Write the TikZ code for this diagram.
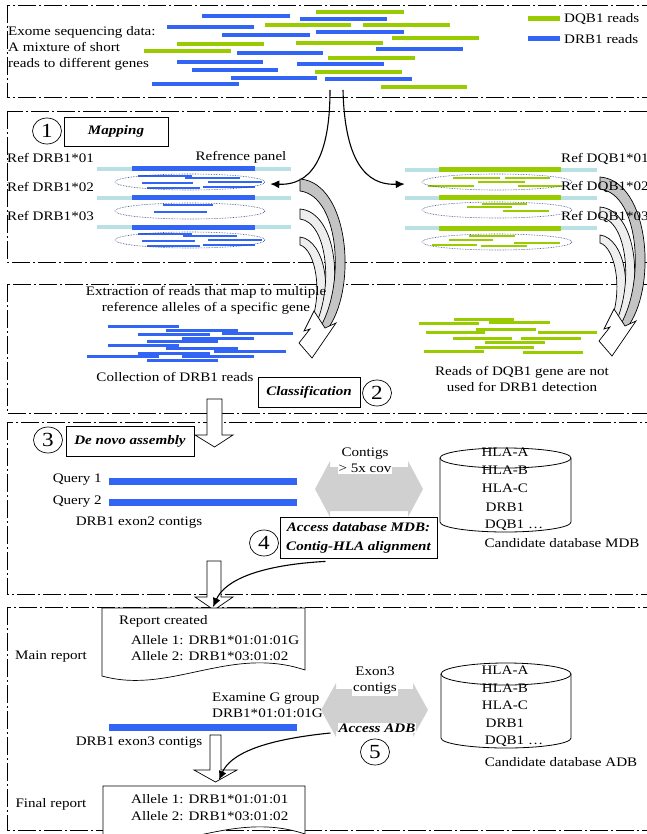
\documentclass[tikz,border=0pt]{standalone}
\usepackage{fontspec}
\setmainfont{Liberation Serif}[FakeStretch=1.16]
\usetikzlibrary{arrows.meta,shapes.geometric,calc}
\definecolor{rblue}{RGB}{50,100,245}
\definecolor{rgreen}{RGB}{153,204,0}
\definecolor{rcyan}{RGB}{185,224,228}
\definecolor{dotblue}{RGB}{40,60,120}
\definecolor{garrow}{RGB}{208,208,208}
\definecolor{bandA}{RGB}{196,196,196}
\definecolor{bandB}{RGB}{238,238,238}
\begin{document}
\begin{tikzpicture}[x=1pt,y=-1pt,
  txt/.style={font=\fontsize{13}{16}\selectfont, inner sep=0pt},
  lbl/.style={txt, anchor=west},
  bxt/.style={draw, line width=0.8pt, inner sep=0pt, font=\fontsize{13}{19}\selectfont\bfseries\itshape},
  circ/.style={draw, ellipse, minimum width=29pt, minimum height=26pt, inner sep=0pt, line width=0.7pt, font=\fontsize{20}{20}\selectfont},
  panel/.style={draw, line width=0.7pt, dash pattern=on 18pt off 3pt on 2pt off 3pt},
  bread/.style={rblue, line width=4pt},
  gread/.style={rgreen, line width=4pt},
  ell/.style={draw=dotblue, densely dotted, ellipse, minimum width=150pt, minimum height=16pt, inner sep=0pt, line width=0.6pt},
  curv/.style={line width=1.1pt, -{Latex[length=9pt,width=8pt]}},
  hollow/.style={draw, fill=white, line width=0.7pt},
  band/.style={draw, line width=0.7pt},
]
\fill[white] (0,0) rectangle (646,834);
\useasboundingbox (0,0) rectangle (646,834);

% ---------- panels
\draw[panel] (7,5) rectangle (670,97.7);
\draw[panel] (7,111) rectangle (670,262);
\draw[panel] (7,284) rectangle (670,413);
\draw[panel] (7,422) rectangle (670,594);
\draw[panel] (7,607) rectangle (670,830);

% ---------- panel 1
\node[lbl, align=left] (intro) at (8,48) {Exome sequencing data:\\A mixture of short\\reads to different genes};
\foreach \a/\b/\y in {202/290/16, 300/387/19, 167/254/27, 222/310/35, 316/404/32, 237/323/53, 376/463/49, 177/263/62, 297/384/64, 192/278/70, 231/317/78, 325/412/79, 152/239/84}
  \draw[bread] (\a,\y) -- (\b,\y);
\foreach \a/\b/\y in {316/404/12, 265/351/25, 363/450/25, 392/479/38, 177/264/44, 296/383/43, 144/231/51, 328/415/58, 315/402/72, 381/467/87}
  \draw[gread] (\a,\y) -- (\b,\y);
\draw[rgreen, line width=5pt] (528,19) -- (560,19);
\node[lbl] (lgq) at (564,19) {DQB1 reads};
\draw[rblue, line width=5pt] (528,39) -- (560,39);
\node[lbl] (lgr) at (564,39) {DRB1 reads};

% ---------- panel 2 (mapping)
\node[circ] (c1) at (47,131) {1};
\node[bxt, minimum width=104pt, minimum height=29pt] (map) at (116,131.5) {Mapping};
\node[txt] (refp) at (241,157) {Refrence panel};
\foreach \i/\y in {1/158,2/187,3/216} \node[lbl] (rl\i) at (7,\y) {Ref DRB1*0\i};
\foreach \y in {169,198,227} {
  \draw[rcyan, line width=4pt] (97,\y) -- (291,\y);
  \draw[rblue, line width=5pt] (132,\y) -- (255,\y);
}
\foreach \a/\b/\y in {138/192/176, 185/240/178, 142/193/183, 208/262/182, 147/200/188, 203/255/187,
                      163/213/205, 154/207/212,
                      138/192/234, 183/237/236, 142/195/241, 208/262/240, 147/200/246, 203/255/245}
  \draw[rblue, line width=2.5pt] (\a,\y) -- (\b,\y);
\node[ell] (le1) at (190,182) {};
\node[ell] (le2) at (190,211) {};
\node[ell] (le3) at (190,240) {};

\foreach \y in {170,198,228} {
  \draw[rcyan, line width=4pt] (405,\y) -- (597,\y);
  \draw[rgreen, line width=5pt] (439,\y) -- (561,\y);
}
\foreach \a/\b/\y in {453/500/178, 505/550/178, 478/525/182, 428/474/186, 518/562/186,
                      482/527/204, 467/512/207, 503/549/211,
                      469/515/236, 449/493/240, 514/560/243, 432/477/245, 481/527/246}
  \draw[rgreen, line width=2.5pt] (\a,\y) -- (\b,\y);
\node[ell] (re1) at (497,182) {};
\node[ell] (re2) at (497,210) {};
\node[ell] (re3) at (497,242) {};

\coordinate (s1) at (330,90);
\coordinate (s2) at (343,90);
\draw[curv] (s1) .. controls (330,175) and (300,185) .. ($(le1.east)+(5,2)$);
\draw[curv] (s2) .. controls (345,175) and (375,185) .. ($(re1.west)+(-17,2)$);

% ---------- gray striped curved arrows
\foreach \dx/\dy in {0/0,300/-2}{
\begin{scope}[shift={(\dx,\dy)}]
  \draw[band, fill=bandB] (300,237) .. controls (325,240) and (336,296) .. (313,331)
     -- (308,331) .. controls (325,294) and (315,249) .. (300,245) -- cycle;
  \draw[band, fill=bandB] (300,209) .. controls (337,212) and (346,292) .. (319,331)
     -- (313,331) .. controls (335,288) and (327,222) .. (300,219) -- cycle;
  \draw[band, fill=bandA] (300,179) .. controls (350,183) and (358,292) .. (326,331)
     -- (318,331) .. controls (346,288) and (340,196) .. (300,191) -- cycle;
  \draw[hollow] (314,311) -- (304,331) -- (310,329) -- (299,343) -- (312,358) -- (336,323) -- (325,328) -- cycle;
\end{scope}}
\foreach \i/\y in {1/159,2/187,3/217} \node[lbl] (rq\i) at (561,\y) {Ref DQB1*0\i};

% ---------- panel 3 (classification)
\node[txt, align=center] (extr) at (206,300.5) {Extraction of reads that map to multiple\\reference alleles of a specific gene};
\foreach \a/\b/\y in {108/179/326, 166/238/330, 222/293/333, 138/210/334, 182/254/338, 147/218/341, 108/179/345, 166/238/348, 214/286/351, 138/210/353, 87/159/356, 182/254/356, 147/218/360}
  \draw[rblue, line width=3pt] (\a,\y) -- (\b,\y);
\node[txt] (coll) at (175,377) {Collection of DRB1 reads};
\node[bxt, minimum width=102pt, minimum height=30pt] (cls) at (309,392) {Classification};
\node[circ] (c2) at (377,393) {2};
\foreach \a/\b/\y in {454/514/319, 419/479/323, 489/550/322, 476/536/329, 426/485/332, 538/597/332, 453/512/338, 521/581/338, 485/545/342, 475/534/347, 424/484/351, 523/583/352}
  \draw[rgreen, line width=3pt] (\a,\y) -- (\b,\y);
\node[txt, align=center] (nodq) at (522,378.5) {Reads of DQB1 gene are not\\used for DRB1 detection};

% block arrow 1
\draw[hollow] (207,399) -- (222,399) -- (222,435) -- (233,435) -- (214.5,447) -- (195,435) -- (207,435) -- cycle;

% ---------- panel 4 (assembly)
\node[circ] (c3) at (48,440) {3};
\node[bxt, minimum width=128pt, minimum height=30pt] (asm) at (130,441) {De novo assembly};
\node[txt, anchor=east] (q1) at (102,480) {Query 1};
\node[txt, anchor=east] (q2) at (102,502) {Query 2};
\draw[rblue, line width=7pt] (109,481) -- (297,481);
\draw[rblue, line width=7pt] (109,502) -- (297,502);
\node[txt] (ex2) at (139,523) {DRB1 exon2 contigs};
\fill[garrow] (315,489) -- (330,461) -- (330,467) -- (408,467) -- (408,461) -- (423,489) -- (408,517) -- (408,511) -- (330,511) -- (330,517) -- cycle;
\node[txt, align=center, fill=white, inner sep=1pt] (ctg) at (365,460.5) {Contigs\\> 5x cov};
\draw[line width=0.8pt] (505.5,458) ellipse [x radius=65.5, y radius=10];
\draw[line width=0.8pt] (440,458) -- (440,522) arc[start angle=180, end angle=0, x radius=65.5, y radius=10] -- (571,458);
\node[txt] (h1a) at (505,452) {HLA-A};
\node[txt] (h1b) at (505,470) {HLA-B};
\node[txt] (h1c) at (505,488) {HLA-C};
\node[txt] (h1d) at (505,507) {DRB1};
\node[txt] (h1e) at (514,525) {DQB1 …};
\node[txt] (cdm) at (562,543) {Candidate database MDB};
\node[bxt, align=center, minimum width=157pt, minimum height=41pt] (mdb) at (358.5,537.5) {Access database MDB:\\Contig-HLA alignment};
\node[circ] (c4) at (264,543) {4};
% block arrow 2
\draw[hollow] (207,561) -- (221,561) -- (221,597) -- (233,597) -- (214,610) -- (195,597) -- (207,597) -- cycle;
\coordinate (a2tip) at (213,607);
\draw[curv] ($(mdb.south)+(-33,3)$) .. controls (260,565) and (225,580) .. (a2tip);

% ---------- panel 5 (report)
\draw[hollow] (102,608) -- (305,608) -- (305,670) .. controls (230,645) and (170,695) .. (102,676) -- cycle;
\node[lbl] (rc) at (119,621) {Report created};
\node[lbl] (al1) at (131,640) {Allele 1: DRB1*01:01:01G};
\node[lbl] (al2) at (131,656) {Allele 2: DRB1*03:01:02};
\node[txt] (mr) at (51,657) {Main report};
\node[lbl, align=left] (egg) at (212,705) {Examine G group\\DRB1*01:01:01G};
\draw[rblue, line width=7pt] (109,727) -- (297,727);
\node[txt] (ex3) at (139,743) {DRB1 exon3 contigs};
\fill[garrow] (321,710) -- (336,683) -- (336,689) -- (413,689) -- (413,683) -- (428,710) -- (413,737) -- (413,731) -- (336,731) -- (336,737) -- cycle;
\node[txt, align=center, fill=white, inner sep=1pt] (e3c) at (375,681) {Exon3\\contigs};
\node[txt, fill=white, inner sep=1pt, font=\fontsize{13}{16}\selectfont\bfseries\itshape] (adb) at (377,728) {Access ADB};
\node[circ] (c5) at (375,752) {5};
\draw[line width=0.8pt] (506,674) ellipse [x radius=65, y radius=11];
\draw[line width=0.8pt] (441,674) -- (441,738) arc[start angle=180, end angle=0, x radius=65, y radius=10] -- (571,674);
\node[txt] (h2a) at (505,670) {HLA-A};
\node[txt] (h2b) at (505,688) {HLA-B};
\node[txt] (h2c) at (505,705) {HLA-C};
\node[txt] (h2d) at (505,723) {DRB1};
\node[txt] (h2e) at (514,741) {DQB1 …};
\node[txt] (cda) at (561,762) {Candidate database ADB};
% block arrow 3
\draw[hollow] (210,735) -- (221,735) -- (221,770) -- (237,770) -- (215.5,782) -- (194,770) -- (210,770) -- cycle;
\coordinate (a3tip) at (219,780);
\draw[curv] ($(adb.west)+(-7,5)$) .. controls (260,740) and (230,755) .. (a3tip);
\node[txt] (fr) at (51,804) {Final report};
\draw[hollow] (103,786) -- (305,786) -- (305,834) .. controls (230,809) and (170,859) .. (103,840) -- cycle;
\node[lbl] (fa1) at (131,799) {Allele 1: DRB1*01:01:01};
\node[lbl] (fa2) at (131,816) {Allele 2: DRB1*03:01:02};
\end{tikzpicture}
\end{document}
